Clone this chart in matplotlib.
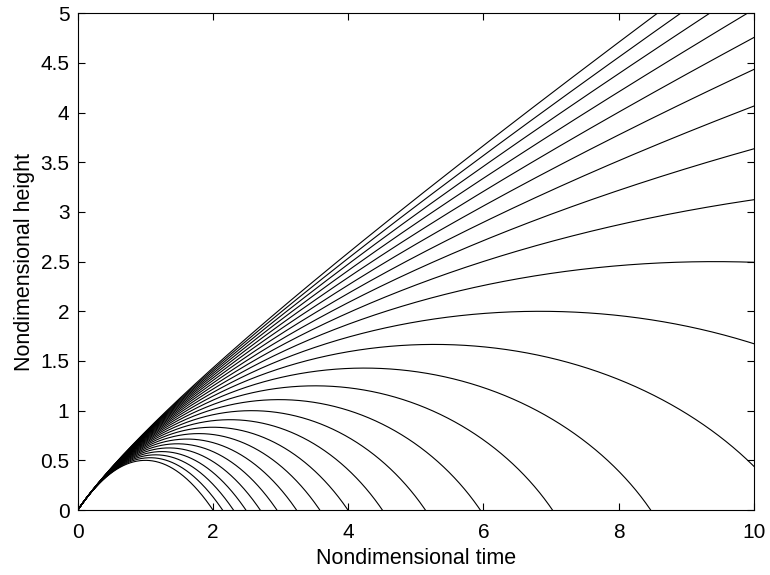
import numpy as np
import matplotlib.pyplot as plt

# gravity-variation parameter for each trajectory (read from the peak heights, 1/(2-eps))
eps_values = [0.0, 0.1, 0.2, 0.3, 0.4, 0.5, 0.6, 0.7, 0.8, 0.9, 1.0, 1.1, 1.2,
              1.3, 1.4, 1.5, 1.6, 1.7, 1.8, 1.9, 2.0, 2.1, 2.2, 2.3, 2.4, 2.5]
t_end = 10.0
x_ticks = [0, 2, 4, 6, 8, 10]
y_ticks = [0, 0.5, 1, 1.5, 2, 2.5, 3, 3.5, 4, 4.5, 5]
y_tick_labels = ['0', '0.5', '1', '1.5', '2', '2.5', '3', '3.5', '4', '4.5', '5']


def trajectory(eps, t_end=10.0, n=2001):
    # x'' = -1/(1+eps*x)^2, x(0)=0, x'(0)=1, integrated with RK4
    t = np.linspace(0, t_end, n)
    dt = t[1] - t[0]
    x = np.zeros(n)
    v = np.zeros(n)
    v[0] = 1.0

    def acc(xx):
        return -1.0 / (1.0 + eps * xx) ** 2

    for i in range(n - 1):
        x0, v0 = x[i], v[i]
        k1x, k1v = v0, acc(x0)
        k2x, k2v = v0 + 0.5 * dt * k1v, acc(x0 + 0.5 * dt * k1x)
        k3x, k3v = v0 + 0.5 * dt * k2v, acc(x0 + 0.5 * dt * k2x)
        k4x, k4v = v0 + dt * k3v, acc(x0 + dt * k3x)
        x[i + 1] = x0 + dt / 6 * (k1x + 2 * k2x + 2 * k3x + k4x)
        v[i + 1] = v0 + dt / 6 * (k1v + 2 * k2v + 2 * k3v + k4v)
        if x[i + 1] < 0:
            # stop once it comes back to the ground
            return t[:i + 2], x[:i + 2]
    return t, x


plt.rcParams['font.family'] = ['Liberation Sans', 'DejaVu Sans']
fig = plt.figure(figsize=(7.7, 5.75), dpi=100)
ax = fig.add_axes([0.101, 0.113, 0.878, 0.864])

for eps in eps_values:
    t, h = trajectory(eps, t_end)
    ax.plot(t, h, color='black', linewidth=0.8)

ax.set_xlim(0, 10)
ax.set_ylim(0, 5)
ax.set_xticks(x_ticks)
ax.set_yticks(y_ticks)
ax.set_yticklabels(y_tick_labels)
ax.tick_params(direction='in', top=True, right=True, labelsize=15, length=5, width=0.8)
ax.tick_params(axis='x', pad=9)
ax.tick_params(axis='y', pad=6)
for s in ax.spines.values():
    s.set_linewidth(0.8)
ax.set_xlabel('Nondimensional time', fontsize=15.5, labelpad=5)
ax.set_ylabel('Nondimensional height', fontsize=15.5, labelpad=4)

fig.savefig('out.png', dpi=100)
